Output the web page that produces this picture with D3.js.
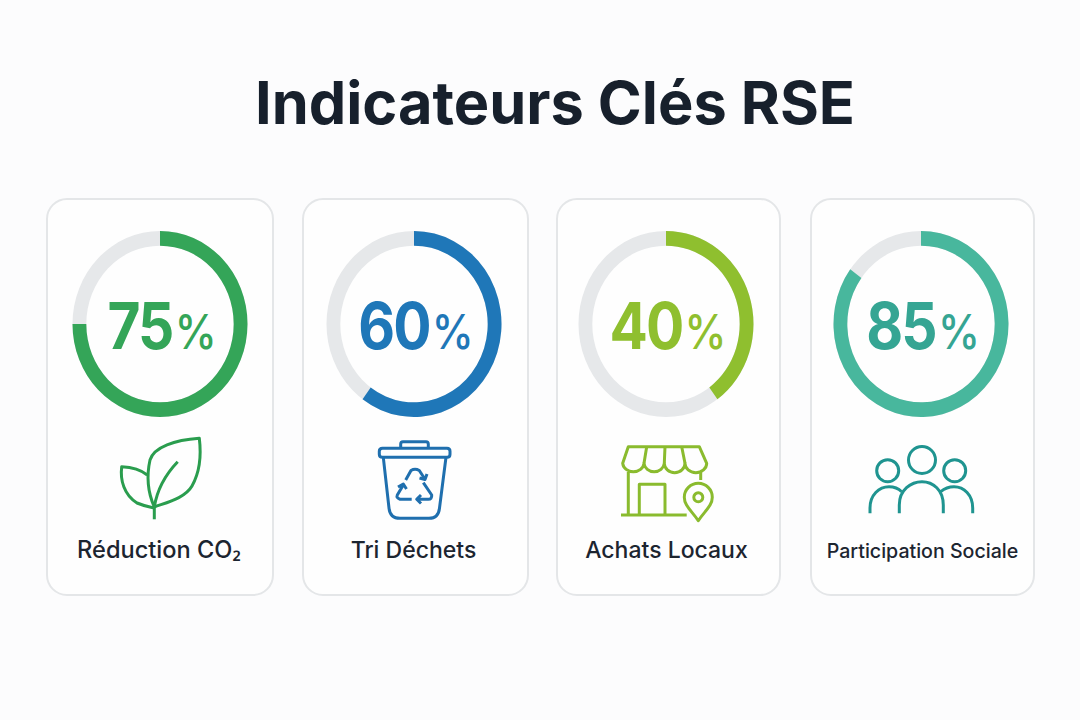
<!DOCTYPE html>
<html lang="fr">
<head>
<meta charset="utf-8">
<title>Indicateurs Clés RSE</title>
<script src="https://cdn.jsdelivr.net/npm/d3@7/dist/d3.min.js"></script>
<style>
  html, body { margin: 0; padding: 0; background: #fcfcfd; }
  svg { display: block; }
  text { font-family: Inter, Roboto, sans-serif; }
</style>
</head>
<body>
<svg id="chart" width="1080" height="720"></svg>
<script>
// Indicator data
const categories = ["Réduction CO₂", "Tri Déchets", "Achats Locaux", "Participation Sociale"];
const values = [75, 60, 40, 85];
const chartTitle = "Indicateurs Clés RSE";

// Presentation, one entry per card
const ringColors = ["#34a558", "#1f77b8", "#8fbf2f", "#48b79d"];
const numberColors = ["#34a558", "#1f77b8", "#8fbf2f", "#35a593"];
const iconColors = ["#2a9d4e", "#1f6fae", "#8abb2e", "#1f9490"];
const cardLeft = [47, 303, 557, 811];
const cardRight = [273, 528, 780, 1034];
const ringCenter = [160, 414, 666, 921];
const labelCenter = [159, 413.5, 666.5, 922.5];
const labelSizes = [23.6, 23, 23, 19.6];
const trackColor = "#e6e8ea";

// Line icons, x relative to the ring centre
const iconPaths = [
  ["M-5.7 507C-11 495-14 478-10 460C-6 447 15 440 39.3 438.3C41 452 41 470 32 486C25 498 8 502-5.7 507Z",
   "M-12.7 475C-20 469-30 467-38.3 466.7C-40 480-36 495-23 503C-16 506-10 507-5.7 508",
   "M-5.7 507V519.3",
   "M-5.7 507C-3 490 5 475 17.7 461.7"],
  ["M-31.5 448.3H33Q36 448.3 36 451.3V454.3Q36 457.3 33 457.3H-31.5Q-34.7 457.3-34.7 454.3V451.3Q-34.7 448.3-31.5 448.3Z",
   "M-13.3 448V444Q-13.3 441.7-11 441.7H12Q14.3 441.7 14.3 444V448",
   "M-30.7 457.3L-25 508Q-24 518.3-14 518.3H15Q24.5 518.3 25.5 508L32 457.3",
   "M-8.3 480L-3 470.5Q1 468 5.3 470.5L11 479.3M5.5 478L11 479.5L13 474",
   "M9.3 482.7L17.7 495Q18 499.3 14.3 499.3H2.7M7 495L2.7 499.3L7 503.5",
   "M-2.3 499.3H-14Q-18 498-16.7 495L-10.7 485M-16 487L-10.7 484L-7.5 489"],
  ["M-37.7 446.7H33.3L40.7 463.3A10.8 9.4 0 0 1 19 463.3A10.3 9.4 0 0 1-1.7 463.3A10.2 9.4 0 0 1-22 463.3A10.7 9.4 0 0 1-43.3 463.3Z",
   "M-19.3 446.7L-22 463.3M-1 446.7L-1.7 463.3M15.7 446.7L19 463.3",
   "M-37.7 472V515M-45 515H20.7M34.7 472V480M-26.7 515V484.3H-1V515",
   "M32.3 520.7C26 511 18.3 506 18.3 497.3A14 14 0 0 1 46.3 497.3C46.3 506 38.6 511 32.3 520.7Z",
   "M27.8 497.3A4.5 4.5 0 1 1 36.8 497.3A4.5 4.5 0 1 1 27.8 497.3Z"],
  ["M-12.5 460A13.5 13.5 0 1 1 14.5 460A13.5 13.5 0 1 1-12.5 460Z",
   "M-44.3 470.7A11 11 0 1 1-22.3 470.7A11 11 0 1 1-44.3 470.7Z",
   "M22.7 470.7A11 11 0 1 1 44.7 470.7A11 11 0 1 1 22.7 470.7Z",
   "M-21.7 513.3V505C-21.7 490-10 481.7 1 481.7C12 481.7 22.3 490 22.3 505V513.3",
   "M-51 513.3V508C-51 495-42 486.7-32 486.7C-28 486.7-23 488-19.3 491.7",
   "M51.7 513.3V508C51.7 495 43 486.7 33 486.7C29 486.7 24 488 19.7 491.7"]
];

const svg = d3.select("#chart");
const ringY = 324, ringOuter = 87.5, ringInner = 73.7, ringStretch = 1.063;

// Percentage to angle, clockwise from twelve o'clock
const angle = d3.scaleLinear().domain([0, 100]).range([0, 2 * Math.PI]);
const arc = d3.arc().innerRadius(ringInner).outerRadius(ringOuter);

svg.append("text")
  .attr("x", 555).attr("y", 124)
  .attr("text-anchor", "middle")
  .attr("font-size", 59.5).attr("font-weight", 700)
  .attr("fill", "#17202c")
  .text(chartTitle);

const cards = svg.selectAll("g.card")
  .data(categories.map((name, i) => ({ name, value: values[i], i })))
  .join("g")
  .attr("class", "card");

cards.append("rect")
  .attr("x", d => cardLeft[d.i]).attr("y", 199)
  .attr("width", d => cardRight[d.i] - cardLeft[d.i]).attr("height", 396)
  .attr("rx", 20)
  .attr("fill", "#fefefe").attr("stroke", "#e4e6e8").attr("stroke-width", 2);

const rings = cards.append("g")
  .attr("transform", d => `translate(${ringCenter[d.i]},${ringY}) scale(1,${ringStretch})`);

rings.append("path")
  .attr("fill", trackColor)
  .attr("d", arc({ startAngle: 0, endAngle: 2 * Math.PI }));

rings.append("path")
  .attr("fill", d => ringColors[d.i])
  .attr("d", d => arc({ startAngle: 0, endAngle: angle(d.value) }));

// Value and percent sign are condensed separately, then centred as a pair
const numberSquash = 0.88, percentSquash = 0.88, readoutGap = 2, readoutNudge = 2, readoutBaseline = 349;

cards.each(function (d) {
  const g = d3.select(this).append("g");
  const num = g.append("text")
    .attr("font-size", 64.5).attr("font-weight", 700).attr("letter-spacing", -2)
    .attr("fill", numberColors[d.i])
    .text(d.value);
  const pct = g.append("text")
    .attr("font-size", 48).attr("font-weight", 500)
    .attr("fill", numberColors[d.i])
    .text("%");
  const numW = num.node().getComputedTextLength() * numberSquash;
  const pctW = pct.node().getComputedTextLength() * percentSquash;
  const start = ringCenter[d.i] + readoutNudge - (numW + readoutGap + pctW) / 2;
  num.attr("transform", `translate(${start},${readoutBaseline}) scale(${numberSquash},1)`);
  pct.attr("transform", `translate(${start + numW + readoutGap},${readoutBaseline}) scale(${percentSquash},1)`);
});

cards.append("g")
  .attr("transform", d => `translate(${ringCenter[d.i]},0)`)
  .selectAll("path")
  .data(d => iconPaths[d.i].map(p => ({ p, i: d.i })))
  .join("path")
  .attr("d", d => d.p)
  .attr("fill", "none")
  .attr("stroke", d => iconColors[d.i])
  .attr("stroke-width", 3)
  .attr("stroke-linejoin", "round");

// Labels; the subscript glyph comes from a face where it is drawn at a readable size
const labels = cards.append("text")
  .attr("x", d => labelCenter[d.i])
  .attr("y", 558)
  .attr("text-anchor", "middle")
  .attr("font-size", d => labelSizes[d.i]).attr("font-weight", 500)
  .attr("fill", "#1c2530");

labels.selectAll("tspan")
  .data(d => d.name.split(/(₂)/).filter(Boolean))
  .join("tspan")
  .style("font-family", s => s === "₂" ? "'Noto Sans', 'DejaVu Sans', sans-serif" : null)
  .text(s => s);
</script>
</body>
</html>
